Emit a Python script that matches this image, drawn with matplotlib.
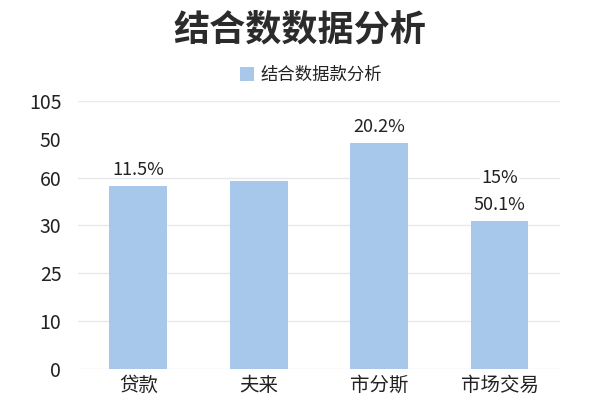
import matplotlib
matplotlib.use('Agg')
import matplotlib.pyplot as plt
from matplotlib.patches import Patch

plt.rcParams['font.family'] = ['Noto Sans CJK SC', 'DejaVu Sans']

# data (bar heights in grid-step units, axis is not linear)
categories = ['贷款', '夫来', '市分斯', '市场交易']
bar_heights = [3.83, 3.93, 4.73, 3.10]
bar_labels = ['11.5%', '', '20.2%', '50.1%']
extra_label = '15%'
tick_labels = ['0', '10', '25', '30', '60', '50', '105']
tick_pos = [0, 1, 2, 3, 4, 4.8, 5.6]
grid_pos = [0, 1, 2, 3, 4, 5.6]

bar_color = '#a8c8eb'
text_color = '#222222'

fig = plt.figure(figsize=(6, 4), dpi=100)
ax = fig.add_axes([0.13, 0.0775, 0.803, 0.67])

x = range(len(categories))
bars = ax.bar(x, bar_heights, width=0.48, color=bar_color, zorder=2)

for y in grid_pos:
    ax.axhline(y, color='#e6e9ee', linewidth=1, zorder=1)

for b, lab in zip(bars, bar_labels):
    if lab:
        ax.text(b.get_x() + b.get_width() / 2, b.get_height() + 0.33, lab,
                ha='center', va='center', fontsize=13, color=text_color, zorder=3)

# the second label above the last bar
last = bars[-1]
ax.text(last.get_x() + last.get_width() / 2, 4.0, extra_label,
        ha='center', va='center', fontsize=13, color=text_color, zorder=3,
        bbox=dict(facecolor='white', edgecolor='none', pad=1))

ax.set_xlim(-0.5, 3.5)
ax.set_ylim(0, 5.6)
ax.set_xticks(list(x))
ax.set_xticklabels(categories, fontsize=14, color=text_color)
ax.set_yticks(tick_pos)
ax.set_yticklabels(tick_labels, fontsize=14, color=text_color)
ax.tick_params(length=0)
ax.tick_params(axis='y', pad=12)
ax.tick_params(axis='x', pad=4)
for s in ax.spines.values():
    s.set_visible(False)

fig.text(0.5, 0.925, '结合数数据分析', ha='center', va='center',
         fontsize=26, fontweight='bold', color='#2b2b2b')

handle = Patch(facecolor=bar_color, edgecolor='none')
fig.legend([handle], ['结合数据款分析'], loc='center', bbox_to_anchor=(0.518, 0.812),
           frameon=False, fontsize=12.5, handlelength=0.85, handleheight=0.85,
           handletextpad=0.35, labelcolor=text_color)

fig.savefig('out.png', dpi=100, facecolor='white')
